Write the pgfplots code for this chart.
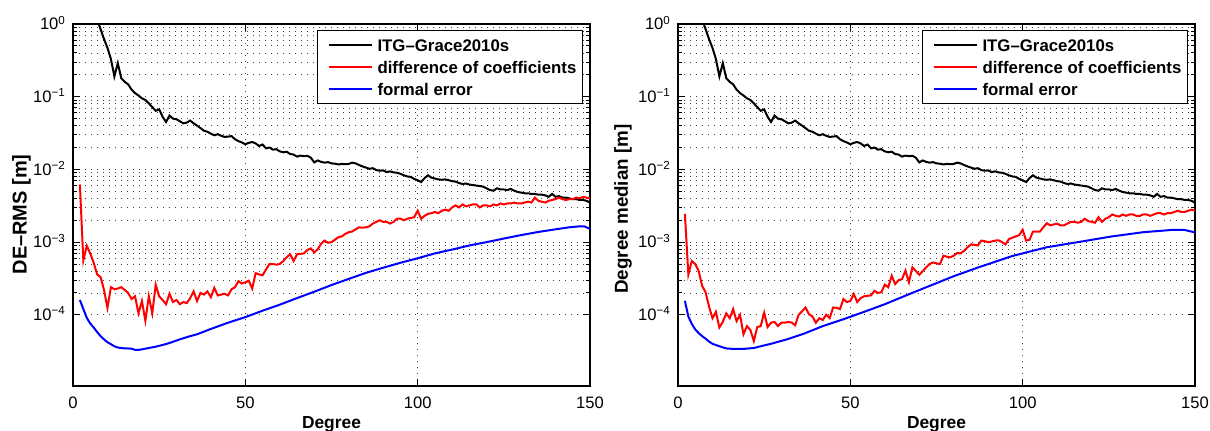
\documentclass[border=0pt]{standalone}
\usepackage{fontspec}
\setmainfont{Liberation Sans}
\usepackage{pgfplots}
\usepackage{pgfplotstable}
\pgfplotsset{compat=1.18}
\pgfplotstableread{
x y
6 1.6
7 1.15
8 0.85
9 0.62
10 0.47
11 0.33
12 0.19
13 0.29
14 0.18
15 0.16
16 0.148
17 0.125
18 0.112
19 0.104
20 0.095
21 0.09
22 0.081
23 0.072
24 0.064
25 0.067
26 0.053
27 0.045
28 0.055
29 0.05
30 0.049
31 0.046
32 0.043
33 0.044
34 0.047
35 0.043
36 0.04
37 0.037
38 0.034
39 0.033
40 0.031
41 0.0295
42 0.0305
43 0.029
44 0.028
45 0.0283
46 0.0287
47 0.026
48 0.0245
49 0.0235
50 0.0222
51 0.0232
52 0.0238
53 0.0228
54 0.021
55 0.022
56 0.0195
57 0.02
58 0.0187
59 0.019
60 0.0177
61 0.0172
62 0.0175
63 0.0163
64 0.016
65 0.015
66 0.0155
67 0.0152
68 0.0154
69 0.0145
70 0.0125
71 0.0133
72 0.0127
73 0.0124
74 0.0126
75 0.0121
76 0.012
77 0.0117
78 0.0119
79 0.0118
80 0.0119
81 0.0124
82 0.0121
83 0.0115
84 0.011
85 0.0106
86 0.0102
87 0.0104
88 0.0098
89 0.0096
90 0.0097
91 0.0092
92 0.0094
93 0.0091
94 0.009
95 0.0087
96 0.0083
97 0.008
98 0.0079
99 0.0074
100 0.0071
101 0.0067
102 0.0076
103 0.0083
104 0.0077
105 0.0075
106 0.0073
107 0.0072
108 0.0073
109 0.0071
110 0.0069
111 0.0068
112 0.0065
113 0.0063
114 0.0064
115 0.0062
116 0.0061
117 0.006
118 0.0059
119 0.0058
120 0.0055
121 0.0052
122 0.0051
123 0.0055
124 0.0053
125 0.0053
126 0.0052
127 0.0054
128 0.0051
129 0.0049
130 0.0048
131 0.0047
132 0.0047
133 0.0046
134 0.0046
135 0.0045
136 0.0045
137 0.0044
138 0.0042
139 0.0046
140 0.0042
141 0.0043
142 0.0041
143 0.0041
144 0.004
145 0.0039
146 0.0039
147 0.0038
148 0.0038
149 0.0037
150 0.0035
}\itgdata
\begin{document}
\begin{tikzpicture}
\path[use as bounding box] (0pt,0pt) rectangle (605pt,215pt);
\begin{axis}[at={(36.5pt,22pt)}, anchor=south west,
    width=258.5pt, height=181pt, scale only axis,
    ymode=log, xmin=0, xmax=150, ymin=1.05e-5, ymax=1,
    xtick={0,50,100,150}, xticklabels={0,50,100,150},
    ytick={1e-4,1e-3,1e-2,1e-1,1},
    yticklabels={10\textsuperscript{−4},10\textsuperscript{−3},10\textsuperscript{−2},10\textsuperscript{−1},10\textsuperscript{0}},
    minor x tick num=0,
    tick align=inside, tick pos=both,
    major tick length=3.5pt, minor tick length=2pt,
    xmajorgrids, ymajorgrids, yminorgrids,
    grid style={black!75, line width=0.4pt, dash pattern=on 0.5pt off 2.5pt},
    minor grid style={black!75, line width=0.4pt, dash pattern=on 0.5pt off 2.5pt},
    axis line style={line width=0.6pt},
    tick style={black, line width=0.5pt},
    tick label style={font=\fontsize{8.3}{10}\selectfont},
    xticklabel style={anchor=base, yshift=-11pt},
    yticklabel style={anchor=base east, yshift=-2.9pt},
    xlabel={Degree},
    xlabel style={font=\bfseries\fontsize{8.7}{10}\selectfont, at={(axis description cs:0.5,-0.117)}, anchor=base},
    ylabel={DE–RMS [m]},
    ylabel style={font=\bfseries\fontsize{10}{12}\selectfont, at={(axis description cs:-0.0896,0.474)}, anchor=base},
    legend style={at={(1,1)}, anchor=north east, xshift=-3.5pt, yshift=-3pt,
      draw=black, line width=0.6pt, fill=white,
      font=\bfseries\fontsize{8.4}{10}\selectfont,
      inner xsep=2pt, inner ysep=1.75pt,
      nodes={inner sep=1pt, text height=7.5pt, text depth=1pt},
      row sep=0.65pt},
    legend cell align=left,
    legend image code/.code={\path (0pt,0pt) (26pt,0pt); \draw[#1] (3pt,0pt) -- (24.5pt,0pt);}]
\addplot[black, line width=1pt] table[x=x,y=y] {\itgdata};
\addplot[red, line width=1pt] coordinates {(2,0.0062)(3,0.00056)(4,0.00089)(5,0.0007)(6,0.00052)(7,0.00036)(8,0.00033)(9,0.00022)(10,0.000125)(11,0.00024)(12,0.000225)(13,0.00023)(14,0.00024)(15,0.00022)(16,0.0002)(17,0.000165)(18,0.00018)(19,0.000105)(20,0.000155)(21,0.000083)(22,0.00018)(23,0.000105)(24,0.00026)(25,0.00018)(26,0.00016)(27,0.00014)(28,0.000195)(29,0.00015)(30,0.00016)(31,0.00014)(32,0.00015)(33,0.000145)(34,0.00017)(35,0.00021)(36,0.000155)(37,0.0002)(38,0.00019)(39,0.00021)(40,0.000175)(41,0.000235)(42,0.000185)(43,0.00019)(44,0.000195)(45,0.000185)(46,0.000225)(47,0.00024)(48,0.00029)(49,0.00027)(50,0.00028)(51,0.000295)(52,0.00023)(53,0.000375)(54,0.00036)(55,0.00035)(56,0.00042)(57,0.0005)(58,0.0005)(59,0.00049)(60,0.0005)(61,0.00055)(62,0.00062)(63,0.00068)(64,0.00055)(65,0.00068)(66,0.00069)(67,0.0007)(68,0.00078)(69,0.00082)(70,0.00072)(71,0.0008)(72,0.00095)(73,0.00105)(74,0.00098)(75,0.001)(76,0.00108)(77,0.00117)(78,0.0012)(79,0.0013)(80,0.00137)(81,0.0014)(82,0.0015)(83,0.0016)(84,0.00158)(85,0.0016)(86,0.00165)(87,0.0018)(88,0.0019)(89,0.002)(90,0.0019)(91,0.0019)(92,0.0018)(93,0.0019)(94,0.0021)(95,0.0021)(96,0.002)(97,0.0021)(98,0.00215)(99,0.0022)(100,0.0027)(101,0.0021)(102,0.0023)(103,0.00245)(104,0.0025)(105,0.0026)(106,0.0025)(107,0.0027)(108,0.0028)(109,0.0027)(110,0.003)(111,0.0032)(112,0.003)(113,0.0033)(114,0.0031)(115,0.0032)(116,0.0033)(117,0.0033)(118,0.003)(119,0.0032)(120,0.0032)(121,0.0031)(122,0.0033)(123,0.0032)(124,0.0034)(125,0.0033)(126,0.0034)(127,0.0034)(128,0.0035)(129,0.0034)(130,0.0034)(131,0.0035)(132,0.0036)(133,0.0035)(134,0.0041)(135,0.0037)(136,0.0036)(137,0.0035)(138,0.0037)(139,0.0038)(140,0.0039)(141,0.0041)(142,0.0039)(143,0.0038)(144,0.0039)(145,0.0039)(146,0.0041)(147,0.004)(148,0.0042)(149,0.0041)(150,0.0040)};
\addplot[blue, line width=1pt] coordinates {(2,1.6e-4)(3,1.2e-4)(4,9.1e-5)(5,7.6e-5)(6,6.7e-5)(7,5.8e-5)(8,5.1e-5)(9,4.6e-5)(10,4.2e-5)(11,3.95e-5)(12,3.7e-5)(13,3.55e-5)(14,3.5e-5)(15,3.45e-5)(16,3.45e-5)(17,3.42e-5)(18,3.3e-5)(19,3.3e-5)(20,3.35e-5)(22,3.5e-5)(24,3.65e-5)(26,3.85e-5)(28,4.1e-5)(31,4.6e-5)(34,5.1e-5)(36,5.4e-5)(40,6.4e-5)(45,7.8e-5)(50,9.3e-5)(55,1.14e-4)(60,1.38e-4)(65,1.7e-4)(70,2.08e-4)(75,2.57e-4)(80,3.12e-4)(85,3.78e-4)(90,4.45e-4)(95,5.2e-4)(100,6.0e-4)(105,7.0e-4)(110,7.9e-4)(115,9.0e-4)(120,1.0e-3)(125,1.12e-3)(130,1.25e-3)(135,1.38e-3)(140,1.5e-3)(144,1.6e-3)(147,1.65e-3)(148.5,1.64e-3)(150,1.52e-3)};
\legend{ITG–Grace2010s,difference of coefficients,formal error}
\end{axis}
\begin{axis}[at={(339pt,22pt)}, anchor=south west,
    width=258.5pt, height=181pt, scale only axis,
    ymode=log, xmin=0, xmax=150, ymin=1.05e-5, ymax=1,
    xtick={0,50,100,150}, xticklabels={0,50,100,150},
    ytick={1e-4,1e-3,1e-2,1e-1,1},
    yticklabels={10\textsuperscript{−4},10\textsuperscript{−3},10\textsuperscript{−2},10\textsuperscript{−1},10\textsuperscript{0}},
    minor x tick num=0,
    tick align=inside, tick pos=both,
    major tick length=3.5pt, minor tick length=2pt,
    xmajorgrids, ymajorgrids, yminorgrids,
    grid style={black!75, line width=0.4pt, dash pattern=on 0.5pt off 2.5pt},
    minor grid style={black!75, line width=0.4pt, dash pattern=on 0.5pt off 2.5pt},
    axis line style={line width=0.6pt},
    tick style={black, line width=0.5pt},
    tick label style={font=\fontsize{8.3}{10}\selectfont},
    xticklabel style={anchor=base, yshift=-11pt},
    yticklabel style={anchor=base east, yshift=-2.9pt},
    xlabel={Degree},
    xlabel style={font=\bfseries\fontsize{8.7}{10}\selectfont, at={(axis description cs:0.5,-0.117)}, anchor=base},
    ylabel={Degree median [m]},
    ylabel style={font=\bfseries\fontsize{9.4}{11}\selectfont, at={(axis description cs:-0.097,0.489)}, anchor=base},
    legend style={at={(1,1)}, anchor=north east, xshift=-3.5pt, yshift=-3pt,
      draw=black, line width=0.6pt, fill=white,
      font=\bfseries\fontsize{8.4}{10}\selectfont,
      inner xsep=2pt, inner ysep=1.75pt,
      nodes={inner sep=1pt, text height=7.5pt, text depth=1pt},
      row sep=0.65pt},
    legend cell align=left,
    legend image code/.code={\path (0pt,0pt) (26pt,0pt); \draw[#1] (3pt,0pt) -- (24.5pt,0pt);}]
\addplot[black, line width=1pt] table[x=x,y=y] {\itgdata};
\addplot[red, line width=1pt] coordinates {(2,0.00245)(3,0.00036)(4,0.00055)(5,0.0005)(6,0.0004)(7,0.00025)(8,0.000205)(9,0.00013)(10,0.00009)(11,0.00011)(12,0.000067)(13,0.00008)(14,0.000105)(15,0.00009)(16,0.00012)(17,0.000082)(18,0.0001)(19,0.000054)(20,0.00007)(21,0.000062)(22,0.0000435)(23,0.000068)(24,0.00007)(25,0.000107)(26,0.000068)(27,0.000078)(28,0.00008)(29,0.00007)(30,0.000078)(31,0.000078)(32,0.00008)(33,0.000078)(34,0.000072)(35,0.0001)(36,0.000112)(37,0.000126)(38,0.000102)(39,0.000095)(40,0.000078)(41,0.00009)(42,0.000085)(43,0.0001)(44,0.00009)(45,0.000126)(46,0.000125)(47,0.00012)(48,0.000165)(49,0.00015)(50,0.000155)(51,0.000193)(52,0.00015)(53,0.00017)(54,0.00018)(55,0.000183)(56,0.000185)(57,0.000214)(58,0.0002)(59,0.000205)(60,0.00026)(61,0.00024)(62,0.000345)(63,0.000265)(64,0.0003)(65,0.00031)(66,0.000405)(67,0.00028)(68,0.00045)(69,0.0004)(70,0.000355)(71,0.0004)(72,0.00045)(73,0.0005)(74,0.000525)(75,0.00051)(76,0.0005)(77,0.00065)(78,0.00063)(79,0.00062)(80,0.00065)(81,0.00071)(82,0.0007)(83,0.00076)(84,0.00085)(85,0.00093)(86,0.00092)(87,0.0009)(88,0.00105)(89,0.00103)(90,0.001)(91,0.00102)(92,0.00105)(93,0.00106)(94,0.001)(95,0.00093)(96,0.0011)(97,0.00115)(98,0.0012)(99,0.00125)(100,0.00148)(101,0.00105)(102,0.00108)(103,0.0014)(104,0.0014)(105,0.0014)(106,0.0016)(107,0.00182)(108,0.0017)(109,0.00175)(110,0.0018)(111,0.0017)(112,0.0017)(113,0.0018)(114,0.0019)(115,0.0019)(116,0.00185)(117,0.0019)(118,0.0021)(119,0.00195)(120,0.0019)(121,0.00185)(122,0.0022)(123,0.0019)(124,0.0021)(125,0.0022)(126,0.0024)(127,0.0023)(128,0.00225)(129,0.0024)(130,0.0023)(131,0.0024)(132,0.0024)(133,0.0023)(134,0.0023)(135,0.0024)(136,0.0024)(137,0.0023)(138,0.0024)(139,0.0025)(140,0.0025)(141,0.0024)(142,0.0025)(143,0.0025)(144,0.0026)(145,0.0027)(146,0.0026)(147,0.0026)(148,0.0027)(149,0.0028)(150,0.0027)};
\addplot[blue, line width=1pt] coordinates {(2,1.56e-4)(3,9.5e-5)(4,7.5e-5)(5,6.3e-5)(6,5.6e-5)(7,5.1e-5)(8,4.7e-5)(9,4.3e-5)(10,4.0e-5)(12,3.7e-5)(14,3.45e-5)(16,3.4e-5)(19,3.4e-5)(22,3.5e-5)(24,3.7e-5)(27,4.0e-5)(31.6,4.6e-5)(36.5,5.5e-5)(42,7.0e-5)(48,8.7e-5)(54,1.1e-4)(60,1.4e-4)(67,1.92e-4)(73,2.5e-4)(80,3.4e-4)(87,4.47e-4)(97,6.45e-4)(107,8.5e-4)(116,1.0e-3)(126,1.2e-3)(135,1.37e-3)(144,1.48e-3)(147,1.47e-3)(150,1.36e-3)};
\legend{ITG–Grace2010s,difference of coefficients,formal error}
\end{axis}
\end{tikzpicture}
\end{document}
